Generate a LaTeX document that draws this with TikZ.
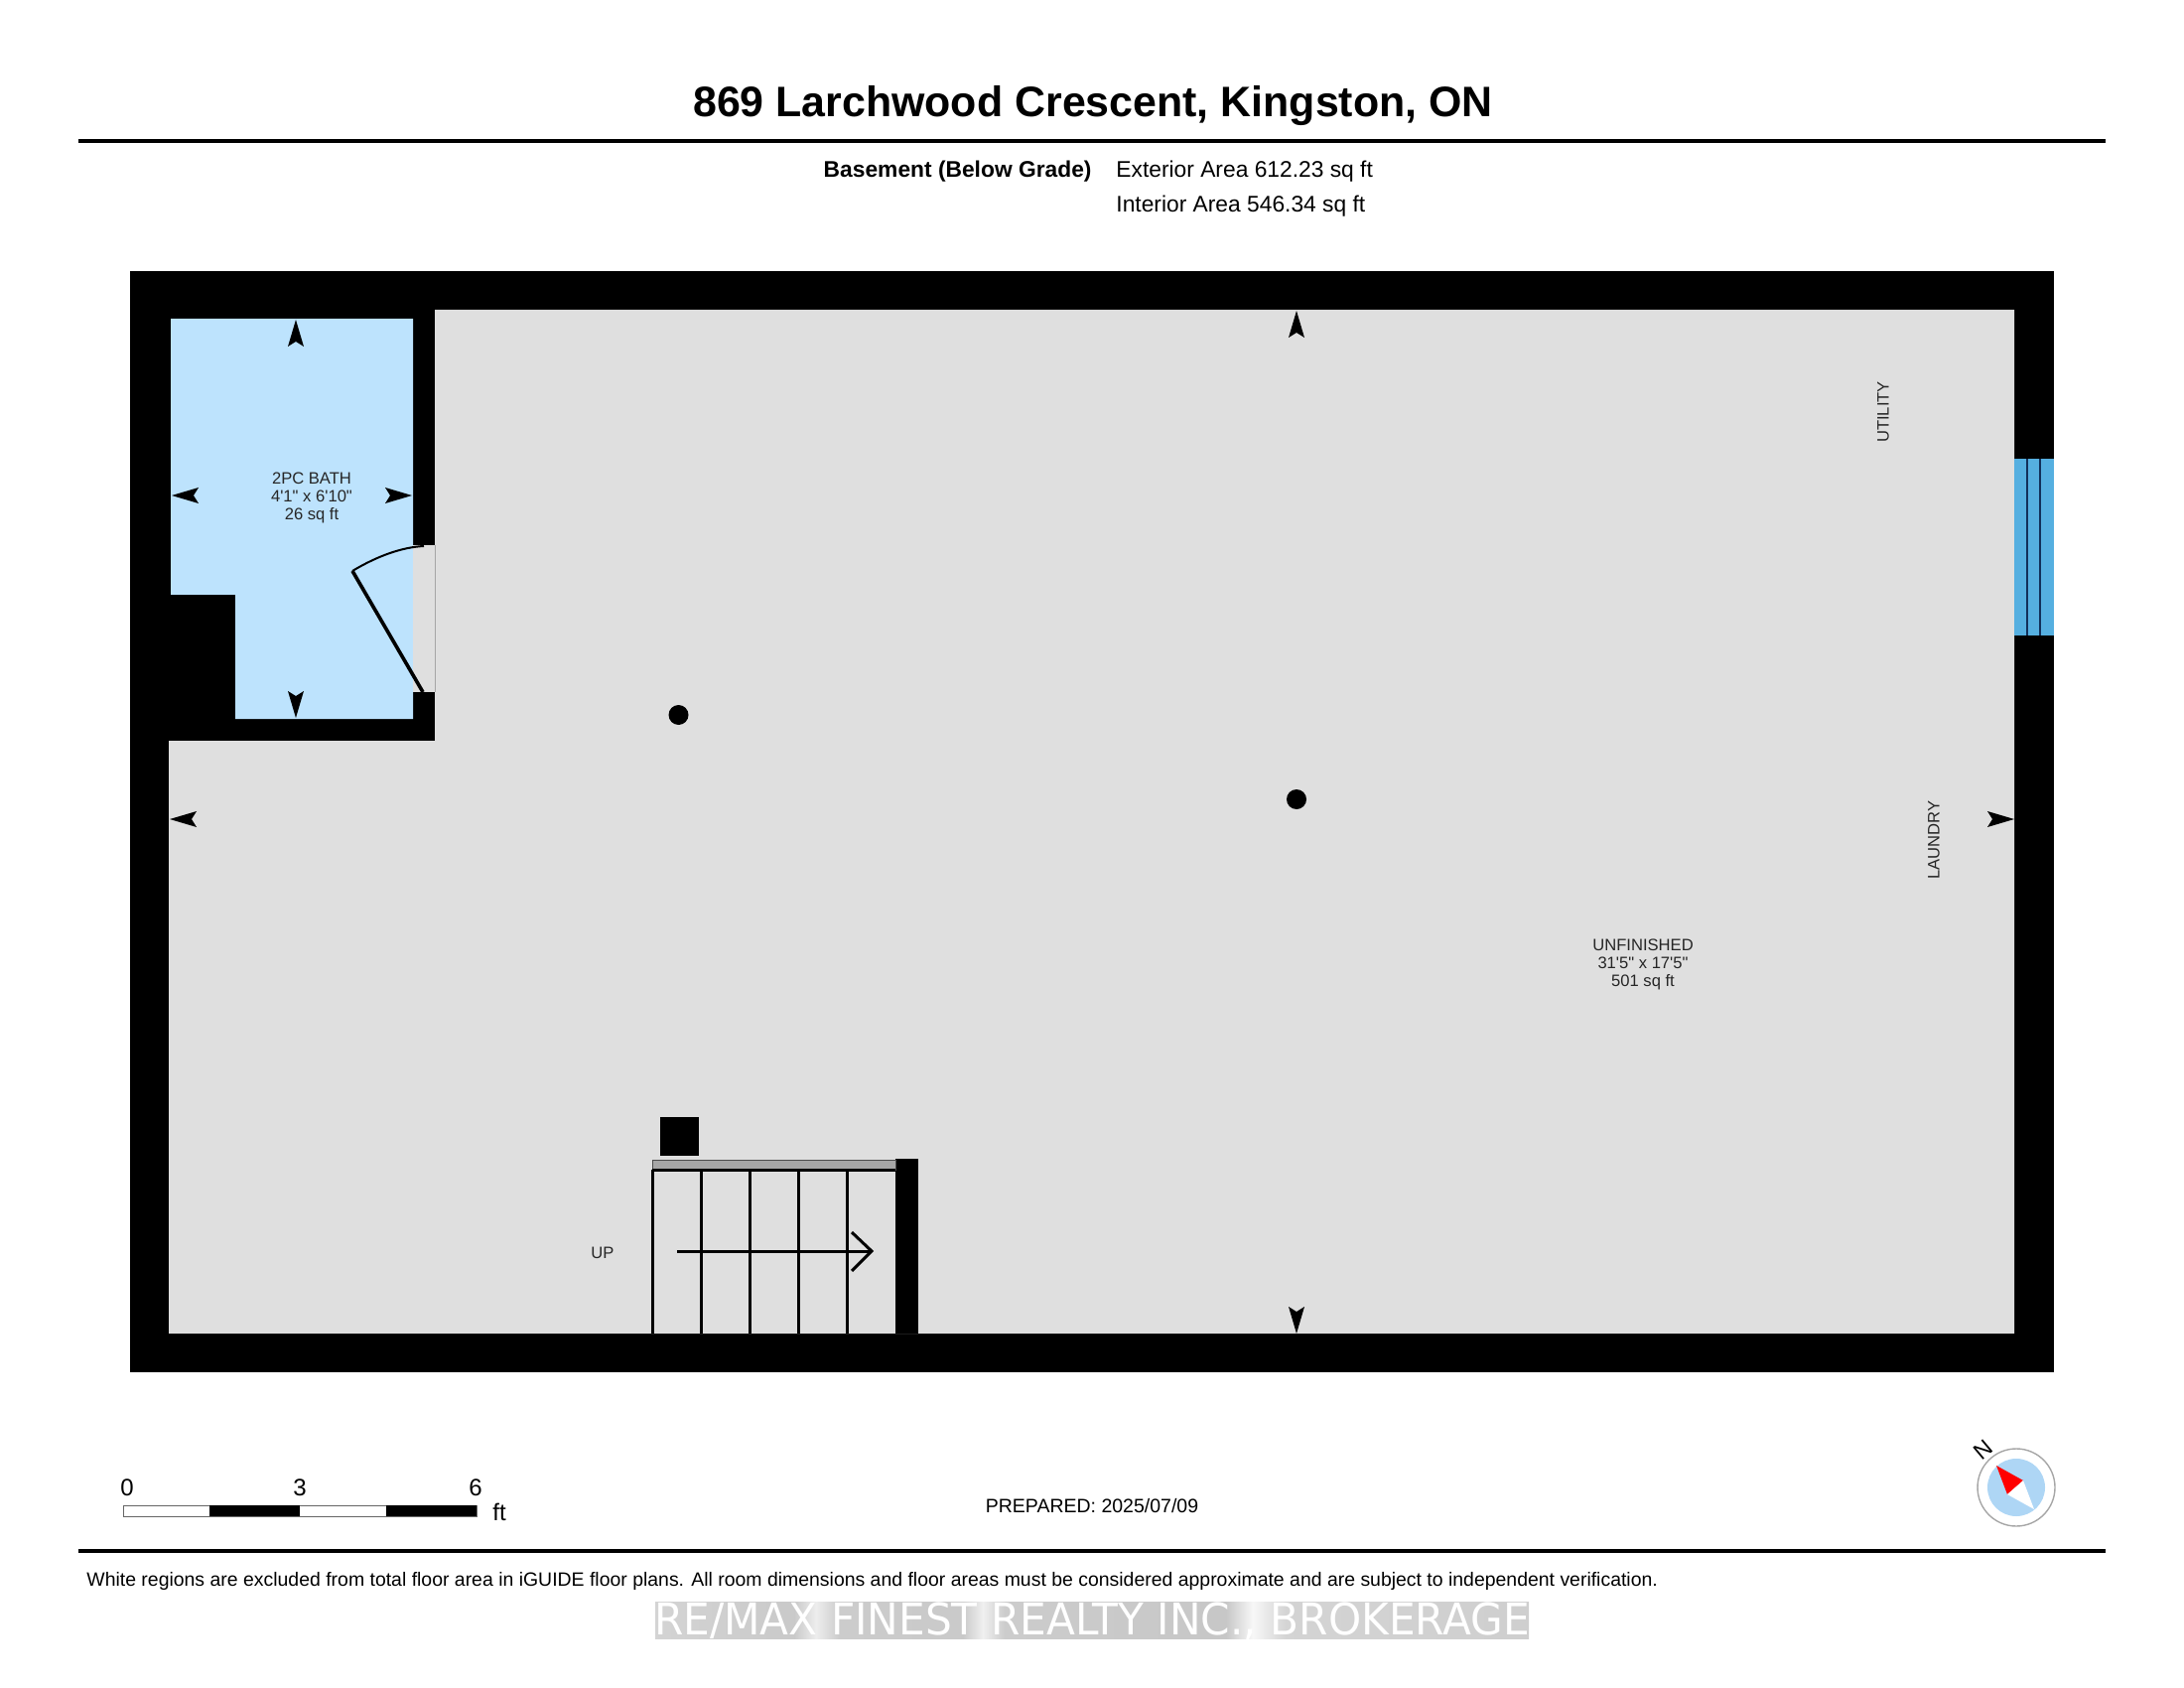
\documentclass[tikz,border=0pt]{standalone}
\usepackage{fontspec}
\usepackage{tikz}
\usetikzlibrary{positioning}
\newfontfamily\planfont{Liberation Sans}
\newfontfamily\agencyfont[FakeStretch=0.96]{DejaVu Sans}
\definecolor{floorgray}{HTML}{DFDFDF}
\definecolor{bathblue}{HTML}{BDE3FD}
\definecolor{glassblue}{HTML}{55AFE0}
\definecolor{glassline}{HTML}{12305A}
\definecolor{compassblue}{HTML}{AED6F5}
\tikzset
{
    wall/.style       = {fill=black},
    roomlabel/.style  = {align=center, inner sep=0pt, text=black!85, font=\planfont\fontsize{8.3}{9}\selectfont},
    headtext/.style   = {inner sep=0pt, font=\planfont\fontsize{11.4}{13}\selectfont},
    scaletext/.style  = {inner sep=0pt, font=\planfont\fontsize{12}{14}\selectfont},
    rule/.style       = {line width=1.7pt},
    tread/.style      = {line width=1.5pt},
    dimtip/.pic       = {\fill (0,0) -- (8,27) -- (0,22) -- (-8,27) -- cycle;}
}

\begin{document}
\begin{tikzpicture}[x=0.5pt,y=-0.5pt]
    \useasboundingbox (0,0) rectangle (2200,1700);

    % title block
    \node [inner sep=0pt, font=\planfont\bfseries\fontsize{21.45}{26}\selectfont] (title) at (1101,107) {869 Larchwood Crescent, Kingston, ON};
    \draw [rule] (79,142) -- (2121,142);
    \node [headtext, font=\planfont\bfseries\fontsize{11.4}{13}\selectfont, anchor=east] (level) at (1100,172.5) {Basement (Below Grade)};
    \node [headtext, anchor=west] (exterior) at (1124,172.5) {Exterior Area 612.23 sq ft};
    \node [headtext, anchor=west] (interior) at (1124,207.5) {Interior Area 546.34 sq ft};

    % walls and floor
    \fill [wall] (131,273) rectangle (2069,1382);
    \fill [floorgray] (438,312) -- (2029,312) -- (2029,1343) -- (170,1343) -- (170,746) -- (438,746) -- cycle;
    \fill [bathblue] (172,321) -- (416,321) -- (416,724) -- (237,724) -- (237,599) -- (172,599) -- cycle;

    % door
    \fill [floorgray] (416,549) rectangle (438,697);
    \draw [gray!70, line width=0.3pt] (438,549) -- (438,697);
    \draw [line width=1.8pt] (426,697) -- (355,575);
    \draw [line width=1pt] (355,575) .. controls (380,560) and (405,551) .. (427,550);

    % window
    \fill [glassblue] (2029,462) rectangle (2069,640);
    \foreach \xpos in {2042,2055}
        \draw [glassline, line width=0.8pt] (\xpos,462) -- (\xpos,640);

    % columns
    \fill (683.5,720) circle (10);
    \fill (1306,805) circle (10);
    \fill (665,1125) rectangle (704,1164);

    % stairs
    \fill [wall] (902,1167) rectangle (925,1343);
    \fill [black!35, draw=black!70, line width=0.5pt] (657,1168) rectangle (902,1178);
    \draw [tread] (657,1178) -- (902,1178);
    \foreach \xpos in {657,706,755,804,853}
        \draw [tread] (\xpos,1178) -- (\xpos,1343);
    \draw [tread] (682,1260) -- (877,1260);
    \draw [tread] (858,1241) -- (878,1260) -- (858,1280);
    \node [roomlabel] (up) at (607,1261.5) {UP};

    % dimension tips
    \pic at (298,322) {dimtip};
    \pic [rotate=180] at (298,723) {dimtip};
    \pic [rotate=90] at (173,499) {dimtip};
    \pic [rotate=-90] at (415,499) {dimtip};
    \pic at (1306,313) {dimtip};
    \pic [rotate=180] at (1306,1343) {dimtip};
    \pic [rotate=90] at (171,825) {dimtip};
    \pic [rotate=-90] at (2029,825) {dimtip};

    % room labels
    \node [roomlabel] (bath) at (314,501.5) {2PC BATH\\4'1" x 6'10"\\26 sq ft};
    \node [roomlabel] (unfinished) at (1655,971.5) {UNFINISHED\\31'5" x 17'5"\\501 sq ft};
    \node [roomlabel, rotate=90] (utility) at (1897,415) {UTILITY};
    \node [roomlabel, rotate=90] (laundry) at (1948,846) {LAUNDRY};

    % scale bar
    \fill [white, draw=black!60, line width=0.4pt] (124,1516) rectangle (480,1527);
    \fill (211,1516) rectangle (302,1527);
    \fill (389,1516) rectangle (480,1527);
    \node [scaletext] (zero) at (128,1498) {0};
    \node [scaletext] (three) at (302,1498) {3};
    \node [scaletext] (six) at (479,1498) {6};
    \node [scaletext] (feet) at (503,1523) {ft};
    \node [inner sep=0pt, font=\planfont\fontsize{9.75}{12}\selectfont] (prepared) at (1100,1517) {PREPARED: 2025/07/09};

    % compass
    \fill [compassblue] (2031,1498) circle (29);
    \draw [black!35, line width=0.7pt] (2031,1498) circle (39);
    \fill [red] (2011,1476) -- (2038,1491) -- (2022,1505) -- cycle;
    \fill [white] (2038,1491) -- (2049,1520) -- (2022,1505) -- cycle;
    \node [inner sep=0pt, rotate=40, font=\planfont\fontsize{11.5}{13}\selectfont] (north) at (1998,1460) {N};

    % footer
    \draw [rule] (79,1562) -- (2121,1562);
    \node [anchor=west, inner sep=0pt, font=\planfont\fontsize{9.72}{12}\selectfont] (note) at (87,1592.5) {White regions are excluded from total floor area in iGUIDE floor plans. All room dimensions and floor areas must be considered approximate and are subject to independent verification.};
    \foreach \xa/\xb/\ca/\cb in {660/800/17/21, 800/822/21/7, 822/845/7/20, 845/970/20/21, 970/990/21/6, 990/1012/6/20, 1012/1235/20/22, 1235/1262/22/3, 1262/1295/3/17, 1295/1540/17/19}
        \shade [left color=black!\ca, right color=black!\cb] (\xa,1613) rectangle (\xb,1650);
    \node [inner sep=0pt, text=white, font=\agencyfont\fontsize{22}{26}\selectfont] (agency) at (1100,1633) {RE/MAX FINEST REALTY INC., BROKERAGE};
\end{tikzpicture}
\end{document}
